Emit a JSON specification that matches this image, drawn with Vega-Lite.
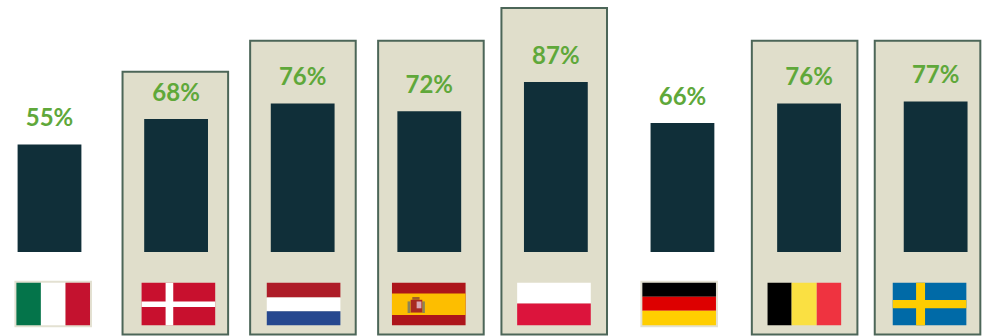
{
  "$schema": "https://vega.github.io/schema/vega-lite/v6.json",
  "width": 984,
  "height": 336,
  "autosize": {"type": "fit", "contains": "padding"},
  "padding": 0,
  "background": "#ffffff",
  "view": {"stroke": null},
  "datasets": {
    "countries": [
      {"country": "Italy", "slot": 0, "share": 55},
      {"country": "Denmark", "slot": 1, "share": 68},
      {"country": "Netherlands", "slot": 2, "share": 76},
      {"country": "Spain", "slot": 3, "share": 72},
      {"country": "Poland", "slot": 4, "share": 87},
      {"country": "Germany", "slot": 5, "share": 66},
      {"country": "Belgium", "slot": 6, "share": 76},
      {"country": "Sweden", "slot": 7, "share": 77}
    ],
    "panels": [
      {"country": "Denmark", "centre": 0.994, "top": 92.2},
      {"country": "Netherlands", "centre": 2.002, "top": 108.1},
      {"country": "Spain", "centre": 3.013, "top": 108.1},
      {"country": "Poland", "centre": 3.987, "top": 124.9},
      {"country": "Belgium", "centre": 5.965, "top": 108.1},
      {"country": "Sweden", "centre": 6.936, "top": 108.1}
    ],
    "flags": [
      {"flag": 0, "tone": "frame", "x0": -0.027, "x1": 1.027, "y0": -0.047, "y1": 1.047},
      {"flag": 0, "tone": "italyGreen", "x0": 0, "x1": 0.333, "y0": 0, "y1": 1},
      {"flag": 0, "tone": "white", "x0": 0.333, "x1": 0.667, "y0": 0, "y1": 1},
      {"flag": 0, "tone": "italyRed", "x0": 0.667, "x1": 1, "y0": 0, "y1": 1},

      {"flag": 1, "tone": "danishRed", "x0": 0, "x1": 1, "y0": 0, "y1": 1},
      {"flag": 1, "tone": "white", "x0": 0.326, "x1": 0.43, "y0": 0, "y1": 1},
      {"flag": 1, "tone": "white", "x0": 0, "x1": 1, "y0": 0.4375, "y1": 0.57},

      {"flag": 2, "tone": "dutchRed", "x0": 0, "x1": 1, "y0": 0, "y1": 0.344},
      {"flag": 2, "tone": "white", "x0": 0, "x1": 1, "y0": 0.344, "y1": 0.672},
      {"flag": 2, "tone": "dutchBlue", "x0": 0, "x1": 1, "y0": 0.672, "y1": 1},

      {"flag": 3, "tone": "spanishRed", "x0": 0, "x1": 1, "y0": 0, "y1": 1},
      {"flag": 3, "tone": "spanishGold", "x0": 0, "x1": 1, "y0": 0.25, "y1": 0.758},
      {"flag": 3, "tone": "crestGrey", "x0": 0.212, "x1": 0.249, "y0": 0.438, "y1": 0.71},
      {"flag": 3, "tone": "crestGrey", "x0": 0.412, "x1": 0.447, "y0": 0.438, "y1": 0.71},
      {"flag": 3, "tone": "crestBrown", "x0": 0.276, "x1": 0.375, "y0": 0.335, "y1": 0.4},
      {"flag": 3, "tone": "crestRed", "x0": 0.254, "x1": 0.412, "y0": 0.4, "y1": 0.7},
      {"flag": 3, "tone": "crestPink", "x0": 0.335, "x1": 0.4, "y0": 0.44, "y1": 0.6},

      {"flag": 4, "tone": "white", "x0": 0, "x1": 1, "y0": 0, "y1": 0.49},
      {"flag": 4, "tone": "polishRed", "x0": 0, "x1": 1, "y0": 0.49, "y1": 1},

      {"flag": 5, "tone": "frame", "x0": -0.027, "x1": 1.027, "y0": -0.047, "y1": 1.047},
      {"flag": 5, "tone": "black", "x0": 0, "x1": 1, "y0": 0, "y1": 0.33},
      {"flag": 5, "tone": "germanRed", "x0": 0, "x1": 1, "y0": 0.33, "y1": 0.66},
      {"flag": 5, "tone": "germanGold", "x0": 0, "x1": 1, "y0": 0.66, "y1": 1},

      {"flag": 6, "tone": "black", "x0": 0, "x1": 0.327, "y0": 0, "y1": 1},
      {"flag": 6, "tone": "belgianYellow", "x0": 0.327, "x1": 0.668, "y0": 0, "y1": 1},
      {"flag": 6, "tone": "belgianRed", "x0": 0.668, "x1": 1, "y0": 0, "y1": 1},

      {"flag": 7, "tone": "swedishBlue", "x0": 0, "x1": 1, "y0": 0, "y1": 1},
      {"flag": 7, "tone": "swedishGold", "x0": 0.317, "x1": 0.439, "y0": 0, "y1": 1},
      {"flag": 7, "tone": "swedishGold", "x0": 0, "x1": 1, "y0": 0.406, "y1": 0.6}
    ]
  },
  "layer": [
    {
      "data": {"name": "panels"},
      "transform": [
        {"calculate": "datum.centre - 0.417", "as": "left"},
        {"calculate": "datum.centre + 0.417", "as": "right"},
        {"calculate": "-42.3", "as": "foot"}
      ],
      "mark": {"type": "rect", "fill": "#e0decb", "opacity": 1, "stroke": "#4c6658", "strokeWidth": 2},
      "encoding": {
        "x": {"field": "left", "type": "quantitative", "scale": {"domain": [-0.391, 7.382], "nice": false, "zero": false}, "axis": null},
        "x2": {"field": "right"},
        "y": {"field": "top", "type": "quantitative", "scale": {"domain": [-42.5, 128.93], "nice": false, "zero": false}, "axis": null},
        "y2": {"field": "foot"}
      }
    },
    {
      "data": {"name": "countries"},
      "transform": [
        {"calculate": "datum.slot - 0.252", "as": "left"},
        {"calculate": "datum.slot + 0.252", "as": "right"},
        {"calculate": "0", "as": "base"}
      ],
      "mark": {"type": "rect", "fill": "#102f39", "opacity": 1},
      "encoding": {
        "x": {"field": "left", "type": "quantitative", "scale": {"domain": [-0.391, 7.382], "nice": false, "zero": false}, "axis": null},
        "x2": {"field": "right"},
        "y": {"field": "base", "type": "quantitative", "scale": {"domain": [-42.5, 128.93], "nice": false, "zero": false}, "axis": null},
        "y2": {"field": "share"}
      }
    },
    {
      "data": {"name": "countries"},
      "transform": [{"calculate": "datum.share + '%'", "as": "label"}],
      "mark": {"type": "text", "font": "Lato", "fontWeight": "bold", "fontSize": 24, "fill": "#5fa83a", "opacity": 1, "baseline": "middle", "dy": -25},
      "encoding": {
        "x": {"field": "slot", "type": "quantitative", "scale": {"domain": [-0.391, 7.382], "nice": false, "zero": false}, "axis": null},
        "y": {"field": "share", "type": "quantitative", "scale": {"domain": [-42.5, 128.93], "nice": false, "zero": false}, "axis": null},
        "text": {"field": "label", "type": "nominal"}
      }
    },
    {
      "data": {"name": "flags"},
      "transform": [
        {"calculate": "datum.flag + datum.x0 * 0.588", "as": "left"},
        {"calculate": "datum.flag + datum.x1 * 0.588", "as": "right"}
      ],
      "mark": {"type": "rect", "opacity": 1},
      "encoding": {
        "x": {"field": "left", "type": "quantitative", "scale": {"domain": [-0.131, 7.729], "nice": false, "zero": false}, "axis": null},
        "x2": {"field": "right"},
        "y": {"field": "y0", "type": "quantitative", "scale": {"domain": [1.227, -6.642], "nice": false, "zero": false}, "axis": null},
        "y2": {"field": "y1"},
        "color": {
          "field": "tone",
          "type": "nominal",
          "legend": null,
          "scale": {
            "domain": ["frame", "white", "black", "italyGreen", "italyRed", "danishRed", "dutchRed", "dutchBlue", "spanishRed", "spanishGold", "crestGrey", "crestBrown", "crestRed", "crestPink", "polishRed", "germanRed", "germanGold", "belgianYellow", "belgianRed", "swedishBlue", "swedishGold"],
            "range": ["#e3e1d2", "#ffffff", "#000000", "#04744a", "#c4122f", "#c8102e", "#ae1c28", "#26488f", "#ad151b", "#fdbe00", "#8a8458", "#a0602a", "#a82a20", "#d8a8b4", "#dc143c", "#dd0000", "#ffce00", "#fae042", "#ef3340", "#006aa7", "#fecc00"]
          }
        }
      }
    }
  ],
  "resolve": {"scale": {"x": "independent", "y": "independent"}}
}
